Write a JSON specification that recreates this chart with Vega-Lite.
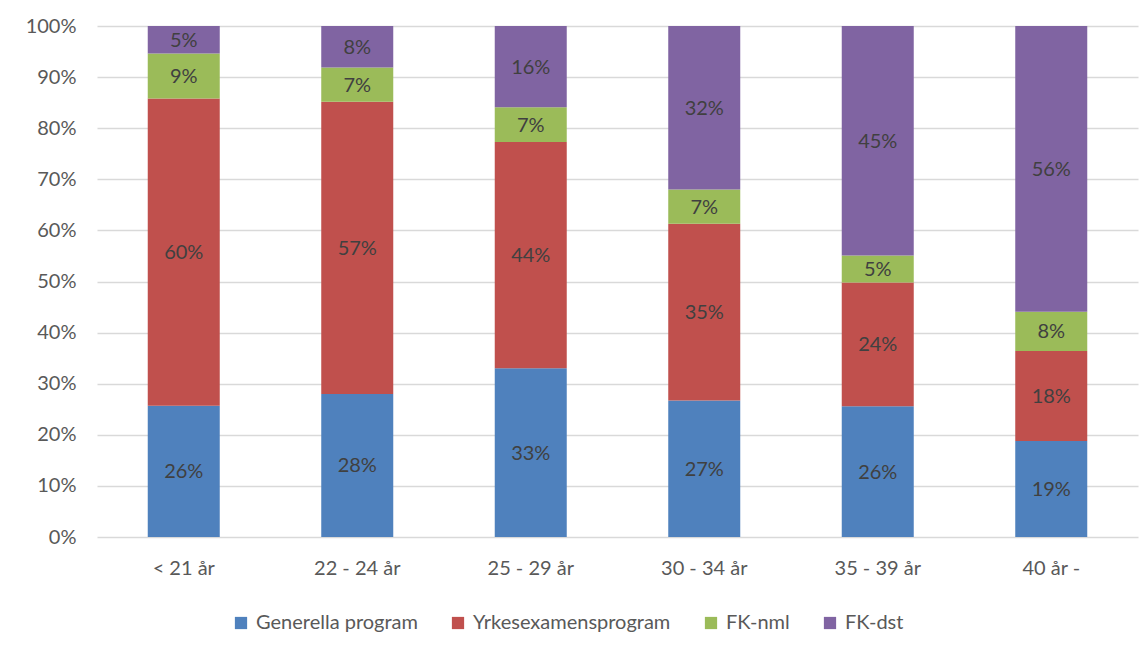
{
  "$schema": "https://vega.github.io/schema/vega-lite/v6.json",
  "autosize": "none",
  "width": 1041,
  "height": 511,
  "padding": {"left": 97, "top": 26, "right": 10, "bottom": 113},
  "background": "white",
  "config": {"view": {"stroke": null}, "font": "Lato"},
  "data": {"values": [
    {"age": "< 21 år", "prog": "Generella program", "k": 1, "v": 0.257},
    {"age": "< 21 år", "prog": "Yrkesexamensprogram", "k": 2, "v": 0.601},
    {"age": "< 21 år", "prog": "FK-nml", "k": 3, "v": 0.088},
    {"age": "< 21 år", "prog": "FK-dst", "k": 4, "v": 0.054},
    {"age": "22 - 24 år", "prog": "Generella program", "k": 1, "v": 0.280},
    {"age": "22 - 24 år", "prog": "Yrkesexamensprogram", "k": 2, "v": 0.572},
    {"age": "22 - 24 år", "prog": "FK-nml", "k": 3, "v": 0.067},
    {"age": "22 - 24 år", "prog": "FK-dst", "k": 4, "v": 0.081},
    {"age": "25 - 29 år", "prog": "Generella program", "k": 1, "v": 0.330},
    {"age": "25 - 29 år", "prog": "Yrkesexamensprogram", "k": 2, "v": 0.443},
    {"age": "25 - 29 år", "prog": "FK-nml", "k": 3, "v": 0.068},
    {"age": "25 - 29 år", "prog": "FK-dst", "k": 4, "v": 0.159},
    {"age": "30 - 34 år", "prog": "Generella program", "k": 1, "v": 0.267},
    {"age": "30 - 34 år", "prog": "Yrkesexamensprogram", "k": 2, "v": 0.346},
    {"age": "30 - 34 år", "prog": "FK-nml", "k": 3, "v": 0.067},
    {"age": "30 - 34 år", "prog": "FK-dst", "k": 4, "v": 0.320},
    {"age": "35 - 39 år", "prog": "Generella program", "k": 1, "v": 0.256},
    {"age": "35 - 39 år", "prog": "Yrkesexamensprogram", "k": 2, "v": 0.242},
    {"age": "35 - 39 år", "prog": "FK-nml", "k": 3, "v": 0.053},
    {"age": "35 - 39 år", "prog": "FK-dst", "k": 4, "v": 0.449},
    {"age": "40 år -", "prog": "Generella program", "k": 1, "v": 0.188},
    {"age": "40 år -", "prog": "Yrkesexamensprogram", "k": 2, "v": 0.176},
    {"age": "40 år -", "prog": "FK-nml", "k": 3, "v": 0.077},
    {"age": "40 år -", "prog": "FK-dst", "k": 4, "v": 0.559}
  ]},
  "transform": [
    {"stack": "v", "groupby": ["age"], "sort": [{"field": "k", "order": "ascending"}], "as": ["y0", "y1"]},
    {"calculate": "(datum.y0 + datum.y1) / 2", "as": "ym"}
  ],
  "encoding": {
    "x": {
      "field": "age", "type": "nominal", "sort": null,
      "scale": {"paddingInner": 0.585, "paddingOuter": 0.2925},
      "axis": {"title": null, "labelAngle": 0, "domain": false, "ticks": false, "labelPadding": 21, "labelFontSize": 20, "labelColor": "#595959"}
    }
  },
  "layer": [
    {
      "mark": {"type": "bar"},
      "encoding": {
        "y": {"field": "y0", "type": "quantitative", "scale": {"domain": [0, 1]},
          "axis": {"title": null, "format": ".0%", "values": [0,0.1,0.2,0.3,0.4,0.5,0.6,0.7,0.8,0.9,1], "labelOverlap": false, "domain": false, "ticks": false, "labelPadding": 21, "labelFontSize": 20, "labelColor": "#595959", "gridColor": "#D9D9D9", "gridWidth": 1.4}},
        "y2": {"field": "y1"},
        "color": {
          "field": "prog", "type": "nominal",
          "scale": {"domain": ["Generella program", "Yrkesexamensprogram", "FK-nml", "FK-dst"], "range": ["#4F81BD", "#C0504D", "#9BBB59", "#8064A2"]},
          "legend": {"title": null, "orient": "none", "direction": "horizontal", "legendX": 134, "legendY": 587, "symbolType": "square", "symbolSize": 150, "symbolStrokeWidth": 0, "labelFontSize": 20, "labelColor": "#595959", "labelOffset": 5, "labelLimit": 400, "columnPadding": 30}
        }
      }
    },
    {
      "mark": {"type": "text", "fontSize": 20, "color": "#404040", "baseline": "middle", "dy": 1},
      "encoding": {
        "y": {"field": "ym", "type": "quantitative",
          "axis": {"title": null, "format": ".0%", "values": [0,0.1,0.2,0.3,0.4,0.5,0.6,0.7,0.8,0.9,1], "labelOverlap": false, "domain": false, "ticks": false, "labelPadding": 21, "labelFontSize": 20, "labelColor": "#595959", "gridColor": "#D9D9D9", "gridWidth": 1.4}},
        "text": {"field": "v", "type": "quantitative", "format": ".0%"}
      }
    }
  ]
}
